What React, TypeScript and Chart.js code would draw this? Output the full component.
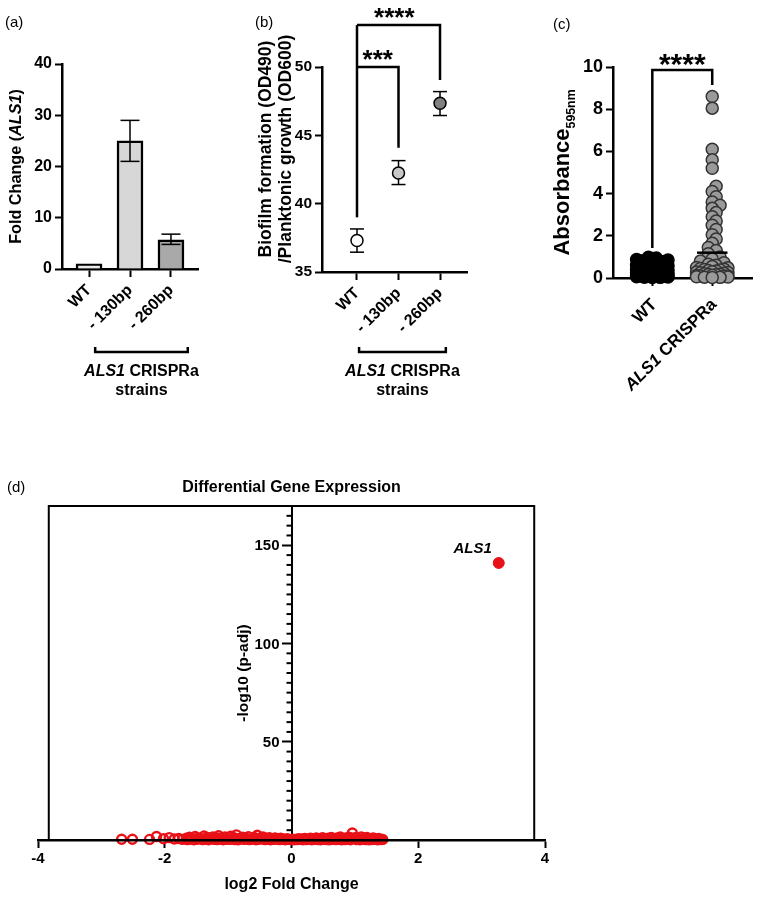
import React, { useEffect, useRef } from 'react';
import { Chart, registerables } from 'chart.js';

Chart.register(...registerables);

const FONT = "'Liberation Sans', Arial, Helvetica, sans-serif";
Chart.defaults.font.family = FONT;
Chart.defaults.color = '#000';

// ---------- (a) qPCR fold change ----------
const A_CATEGORIES = ['WT', '- 130bp', '- 260bp'];
const A_FOLD_CHANGE = [1.0, 25.0, 5.7];
const A_ERR_LOW = [1.0, 21.0, 4.8];
const A_ERR_HIGH = [1.0, 29.0, 6.8];
const A_COLORS = ['#ececec', '#d7d7d7', '#a9a9a9'];
const A_GROUP_SPAN = [1.15, 3.41];

// ---------- (b) biofilm / planktonic ----------
const B_CATEGORIES = ['WT', '- 130bp', '- 260bp'];
const B_BIOFILM = [37.3, 42.25, 47.35];
const B_ERR_LOW = [36.45, 41.4, 46.45];
const B_ERR_HIGH = [38.15, 43.15, 48.2];
const B_COLORS = ['#ffffff', '#c8c8c8', '#808080'];
const B_SIG_LABELS = ['***', '****'];
const B_SIG_TO = [2, 3];
const B_SIG_TOP = [50.0, 53.07];
const B_SIG_RIGHT_END = [44.1, 49.05];
const B_SIG_LEFT_END = 39.0;
const B_SIG_LABEL_X = [1.5, 1.9];
const B_GROUP_SPAN = [1.05, 3.14];

// ---------- (c) absorbance ----------
const C_GROUPS = ['WT', 'ALS1 CRISPRa'];
const C_WT = [0.98, 0.95, 0.92, 0.88, 0.85, 0.82, 0.78, 0.75, 0.72, 0.7, 0.66, 0.64, 0.6, 0.58, 0.55, 0.52,
  0.5, 0.48, 0.46, 0.44, 0.42, 0.4, 0.38, 0.36, 0.35, 0.33, 0.31, 0.3, 0.28, 0.26, 0.25, 0.23,
  0.22, 0.2, 0.19, 0.18, 0.16, 0.15, 0.13, 0.12, 0.1, 0.09, 0.08, 0.06, 0.05, 0.04, 0.03, 0.02];
const C_CRISPRA = [8.6, 8.05, 6.1, 5.6, 5.2, 4.35, 4.1, 3.85, 3.6, 3.45, 3.3, 3.1, 2.9, 2.7, 2.5, 2.3,
  2.05, 1.85, 1.65, 1.45, 1.3, 1.15, 1.0, 0.9,
  0.8, 0.72, 0.65, 0.6, 0.55, 0.5, 0.48, 0.45, 0.42, 0.4, 0.38, 0.35, 0.33, 0.3, 0.28, 0.26,
  0.25, 0.22, 0.2, 0.18, 0.16, 0.15, 0.13, 0.12, 0.1, 0.09, 0.08, 0.06, 0.05, 0.04, 0.03, 0.02];
const C_MEANS = [0.35, 1.2];
const C_SIG_TOP = 9.86;
const C_SIG_LEFT_END = 1.42;
const C_SIG_RIGHT_END = 9.15;

// ---------- (d) volcano ----------
const D_LOG2FC = [
  -2.68, -2.51, -2.24, -2.13, -2.02, -1.93, -1.85, -1.78, -1.72,
  -1.66, -1.61, -1.57, -1.52, -1.47, -1.43, -1.38, -1.33, -1.29, -1.24,
  -1.19, -1.15, -1.10, -1.05, -1.01, -0.96, -0.91, -0.87, -0.82, -0.77,
  -0.73, -0.68, -0.63, -0.59, -0.54, -0.49, -0.45, -0.40, -0.35, -0.31,
  -0.26, -0.21, -0.17, -0.12, -0.07, -0.03,
  0.02, 0.07, 0.11, 0.16, 0.21, 0.25, 0.30, 0.35, 0.39, 0.44,
  0.49, 0.53, 0.58, 0.63, 0.67, 0.72, 0.77, 0.81, 0.86, 0.91,
  0.96, 1.00, 1.05, 1.10, 1.14, 1.19, 1.24, 1.29, 1.33, 1.38, 1.44,
  -1.64, -1.59, -1.54, -1.50, -1.45, -1.40, -1.36, -1.31, -1.26, -1.21,
  -1.17, -1.12, -1.08, -1.03, -0.98, -0.94, -0.89, -0.84, -0.80, -0.75,
  -0.70, -0.66, -0.61, -0.56, -0.52, -0.47, -0.42, -0.38, -0.33, -0.28,
  -0.24, -0.19, -0.14, -0.10, -0.05, 0.00,
  0.04, 0.09, 0.14, 0.18, 0.23, 0.28, 0.32, 0.37, 0.42, 0.46,
  0.51, 0.56, 0.60, 0.65, 0.70, 0.74, 0.79, 0.84, 0.88, 0.93,
  1.03, 1.08, 1.12, 1.17, 1.22, 1.26, 1.31, 1.36, 1.41];
const D_NEG_LOG10_PADJ = [
  0.4, 0.4, 0.3, 1.8, 0.6, 1.2, 0.5, 0.8, 0.3,
  0.9, 1.4, 0.6, 1.8, 1.1, 0.7, 2.0, 1.3, 0.8, 1.6,
  1.0, 2.2, 0.9, 1.5, 0.6, 1.9, 1.2, 2.6, 0.8, 1.4,
  1.1, 1.7, 0.7, 1.3, 2.4, 1.0, 1.6, 0.8, 1.2, 0.6,
  1.0, 0.5, 0.9, 0.4, 0.7, 0.3,
  0.4, 0.3, 0.6, 0.5, 0.8, 0.4, 0.9, 0.6, 1.0, 0.7,
  1.2, 0.5, 0.9, 1.3, 0.6, 1.1, 1.5, 0.8, 1.0, 1.4,
  3.6, 1.2, 0.7, 1.6, 0.9, 1.3, 0.6, 1.1, 0.5, 0.8, 0.3,
  0.2, 0.5, 0.1, 0.3, 0.6, 0.2, 0.4, 0.1, 0.5, 0.3,
  0.2, 0.6, 0.1, 0.4, 0.3, 0.5, 0.2, 0.1, 0.6, 0.3,
  0.4, 0.2, 0.5, 0.1, 0.3, 0.6, 0.2, 0.4, 0.1, 0.3,
  0.5, 0.2, 0.4, 0.1, 0.3, 0.2,
  0.1, 0.2, 0.3, 0.1, 0.2, 0.4, 0.1, 0.3, 0.2, 0.1,
  0.3, 0.2, 0.1, 0.4, 0.2, 0.3, 0.1, 0.2, 0.3, 0.1,
  0.2, 0.1, 0.3, 0.2, 0.1, 0.2, 0.3, 0.1, 0.2];
const D_HIT_NAME = 'ALS1';
const D_HIT_LOG2FC = 3.27;
const D_HIT_NEG_LOG10_PADJ = 141;
const D_FRAME_X = [-3.83, 3.83];
const RED = 'rgb(232,17,23)';

// ---------- drawing helpers ----------
type Seg = { t: string; italic?: boolean; sub?: boolean };

function drawRich(ctx: CanvasRenderingContext2D, segs: Seg[], x: number, y: number, size: number,
  rot: number, align: 'left' | 'center' | 'right') {
  ctx.save();
  ctx.translate(x, y);
  ctx.rotate(rot);
  const fontFor = (s: Seg) => `${s.italic ? 'italic ' : ''}bold ${s.sub ? size * 0.56 : size}px ${FONT}`;
  let total = 0;
  const widths = segs.map((s) => { ctx.font = fontFor(s); const w = ctx.measureText(s.t).width; total += w; return w; });
  let cx = align === 'center' ? -total / 2 : align === 'right' ? -total : 0;
  ctx.textAlign = 'left';
  ctx.textBaseline = 'alphabetic';
  ctx.fillStyle = '#000';
  segs.forEach((s, i) => {
    ctx.font = fontFor(s);
    ctx.fillText(s.t, cx, size * 0.36 + (s.sub ? size * 0.28 : 0));
    cx += widths[i];
  });
  ctx.restore();
}

function drawStars(ctx: CanvasRenderingContext2D, text: string, x: number, y: number, size: number) {
  ctx.save();
  ctx.font = `bold ${size}px ${FONT}`;
  ctx.textAlign = 'center';
  ctx.textBaseline = 'alphabetic';
  ctx.fillStyle = '#000';
  ctx.fillText(text, x, y + size * 0.52);
  ctx.restore();
}

function poly(ctx: CanvasRenderingContext2D, pts: number[][], width = 2.5, color = '#000') {
  ctx.save();
  ctx.strokeStyle = color;
  ctx.lineWidth = width;
  ctx.lineCap = 'butt';
  ctx.lineJoin = 'miter';
  ctx.beginPath();
  pts.forEach(([px, py], i) => (i ? ctx.lineTo(px, py) : ctx.moveTo(px, py)));
  ctx.stroke();
  ctx.restore();
}

function errorBars(chart: any, low: number[], high: number[], halfCap: number) {
  const { ctx, scales: { x, y } } = chart;
  low.forEach((lo, i) => {
    if (lo === high[i]) return;
    const px = x.getPixelForValue(i + 1);
    const y1 = y.getPixelForValue(lo);
    const y2 = y.getPixelForValue(high[i]);
    poly(ctx, [[px, y1], [px, y2]], 1.5);
    poly(ctx, [[px - halfCap, y1], [px + halfCap, y1]], 1.5);
    poly(ctx, [[px - halfCap, y2], [px + halfCap, y2]], 1.5);
  });
}

function groupBracket(chart: any, span: number[], yOff: number) {
  const { ctx, scales: { x }, chartArea } = chart;
  const p0 = x.getPixelForValue(span[0]);
  const p1 = x.getPixelForValue(span[1]);
  const py = chartArea.bottom + yOff;
  poly(ctx, [[p0, py - 5], [p0, py], [p1, py], [p1, py - 5]], 2.5);
  const cx = (p0 + p1) / 2;
  drawRich(ctx, [{ t: 'ALS1', italic: true }, { t: ' CRISPRa' }], cx, py + 18, 16, 0, 'center');
  drawRich(ctx, [{ t: 'strains' }], cx, py + 37, 16, 0, 'center');
}

function labelSegs(label: string): Seg[] {
  if (label.startsWith('ALS1')) return [{ t: 'ALS1', italic: true }, { t: label.slice(4) }];
  return [{ t: label }];
}

function swarmOffsets(values: number[], pxPerY: number, pxPerX: number, diam: number): number[] {
  const STEP = 4, MAX = 19;
  const cands: number[] = [0];
  for (let k = 1; k * STEP <= MAX; k++) cands.push(k * STEP, -k * STEP);
  const order = values.map((_, i) => i).sort((a, b) => values[a] - values[b]);
  const placed: number[][] = [];
  const out: number[] = values.map(() => 0);
  order.forEach((idx, n) => {
    const py = values[idx] * pxPerY;
    let chosen = cands[n % cands.length];
    for (const c of cands) {
      if (placed.every(([qx, qy]) => Math.hypot(qx - c, qy - py) >= diam)) { chosen = c; break; }
    }
    placed.push([chosen, py]);
    out[idx] = chosen / pxPerX;
  });
  return out;
}

const axisBorder = { color: '#000', width: 2.5 };
const baseOptions = {
  responsive: false,
  animation: false,
  events: [] as string[],
  plugins: { legend: { display: false }, tooltip: { enabled: false }, title: { display: false } },
};

// ---------- (a) ----------
function configA(): any {
  const extras = {
    id: 'aExtras',
    afterDatasetsDraw(chart: any) { errorBars(chart, A_ERR_LOW, A_ERR_HIGH, 9.5); },
    afterDraw(chart: any) {
      const { ctx, chartArea } = chart;
      drawRich(ctx, [{ t: 'Fold Change (' }, { t: 'ALS1', italic: true }, { t: ')' }],
        chartArea.left - 47, (chartArea.top + chartArea.bottom) / 2, 16.2, -Math.PI / 2, 'center');
      groupBracket(chart, A_GROUP_SPAN, 83);
    },
  };
  return {
    type: 'bar',
    data: {
      datasets: [{
        data: A_CATEGORIES.map((_, i) => ({ x: i + 1, y: A_FOLD_CHANGE[i] })),
        backgroundColor: A_COLORS, borderColor: '#000', borderWidth: 2.5, barThickness: 26,
      }],
    },
    options: {
      ...baseOptions,
      layout: { padding: { left: 0, top: 64, right: 42, bottom: 71 } },
      scales: {
        x: {
          type: 'linear', min: 0.34, max: 3.66, offset: false,
          afterBuildTicks: (s: any) => { s.ticks = A_CATEGORIES.map((_, i) => ({ value: i + 1 })); },
          afterFit: (s: any) => { s.height = 60; },
          grid: { offset: false, drawOnChartArea: false, color: '#000', tickLength: 8, tickWidth: 2 },
          border: axisBorder,
          ticks: {
            callback: (v: number) => A_CATEGORIES[Math.round(v) - 1] ?? '',
            minRotation: 45, maxRotation: 45, autoSkip: false, padding: 4,
            font: { size: 16, weight: 'bold' }, color: '#000',
          },
        },
        y: {
          min: 0, max: 40,
          afterFit: (s: any) => { s.width = 62; },
          grid: { drawOnChartArea: false, color: '#000', tickLength: 7, tickWidth: 2 },
          border: axisBorder,
          ticks: { stepSize: 10, padding: 3, font: { size: 16, weight: 'bold' }, color: '#000' },
        },
      },
    },
    plugins: [extras],
  };
}

// ---------- (b) ----------
function configB(): any {
  const extras = {
    id: 'bExtras',
    beforeDatasetsDraw(chart: any) { errorBars(chart, B_ERR_LOW, B_ERR_HIGH, 7); },
    afterDraw(chart: any) {
      const { ctx, chartArea, scales: { x, y } } = chart;
      const cy = chartArea.top + 82;
      drawRich(ctx, [{ t: 'Biofilm formation (OD490)' }], chartArea.left - 57, cy, 17.5, -Math.PI / 2, 'center');
      drawRich(ctx, [{ t: '/Planktonic growth (OD600)' }], chartArea.left - 37, cy, 17.5, -Math.PI / 2, 'center');
      const lx = x.getPixelForValue(1);
      poly(ctx, [[lx, y.getPixelForValue(B_SIG_LEFT_END)], [lx, y.getPixelForValue(B_SIG_TOP[1])]], 2.5);
      B_SIG_LABELS.forEach((lab, i) => {
        const rx = x.getPixelForValue(B_SIG_TO[i]);
        const ty = y.getPixelForValue(B_SIG_TOP[i]);
        poly(ctx, [[lx, ty], [rx, ty], [rx, y.getPixelForValue(B_SIG_RIGHT_END[i])]], 2.5);
        drawStars(ctx, lab, x.getPixelForValue(B_SIG_LABEL_X[i]), ty - 13, 26);
      });
      groupBracket(chart, B_GROUP_SPAN, 80);
    },
  };
  return {
    type: 'scatter',
    data: {
      datasets: [{
        data: B_CATEGORIES.map((_, i) => ({ x: i + 1, y: B_BIOFILM[i] })),
        pointRadius: 6, pointBackgroundColor: B_COLORS, pointBorderColor: '#000', pointBorderWidth: 1.5,
      }],
    },
    options: {
      ...baseOptions,
      layout: { padding: { left: 0, top: 67, right: 23, bottom: 68 } },
      scales: {
        x: {
          type: 'linear', min: 0.157, max: 3.65,
          afterBuildTicks: (s: any) => { s.ticks = B_CATEGORIES.map((_, i) => ({ value: i + 1 })); },
          afterFit: (s: any) => { s.height = 60; },
          grid: { drawOnChartArea: false, color: '#000', tickLength: 8, tickWidth: 2 },
          border: axisBorder,
          ticks: {
            callback: (v: number) => B_CATEGORIES[Math.round(v) - 1] ?? '',
            minRotation: 45, maxRotation: 45, autoSkip: false, padding: 4,
            font: { size: 16, weight: 'bold' }, color: '#000',
          },
        },
        y: {
          min: 35, max: 50,
          afterFit: (s: any) => { s.width = 82; },
          grid: { drawOnChartArea: false, color: '#000', tickLength: 7, tickWidth: 2 },
          border: axisBorder,
          ticks: { stepSize: 5, padding: 3, font: { size: 15.5, weight: 'bold' }, color: '#000' },
        },
      },
    },
    plugins: [extras],
  };
}

// ---------- (c) ----------
const C_PAD = { left: 0, top: 67, right: 5, bottom: 62 };
const C_Y_MAX = 10;
const C_X_MIN = 0.344;
const C_X_MAX = 2.672;
function configC(): any {
  const plotH = 400 - C_PAD.top - C_PAD.bottom - 60;
  const plotW = 270 - 123 - C_PAD.right;
  const pxPerY = plotH / C_Y_MAX;
  const pxPerX = plotW / (C_X_MAX - C_X_MIN);
  const wtOff = swarmOffsets(C_WT, pxPerY, pxPerX, 8);
  const crOff = swarmOffsets(C_CRISPRA, pxPerY, pxPerX, 5.5);
  const extras = {
    id: 'cExtras',
    afterDraw(chart: any) {
      const { ctx, chartArea, scales: { x, y } } = chart;
      drawRich(ctx, [{ t: 'Absorbance' }, { t: '595nm', sub: true }], chartArea.left - 52,
        (chartArea.top + chartArea.bottom) / 2, 22, -Math.PI / 2, 'center');
      C_GROUPS.forEach((g, i) => {
        drawRich(ctx, labelSegs(g), x.getPixelForValue(i + 1) + 1, chartArea.bottom + 23, 17, -Math.PI / 4, 'right');
      });
      C_MEANS.forEach((m, i) => {
        const px = x.getPixelForValue(i + 1);
        const half = 0.25 * pxPerX;
        poly(ctx, [[px - half, y.getPixelForValue(m)], [px + half, y.getPixelForValue(m)]], 2.5);
      });
      const lx = x.getPixelForValue(1);
      const rx = x.getPixelForValue(2);
      const ty = y.getPixelForValue(C_SIG_TOP);
      poly(ctx, [[lx, y.getPixelForValue(C_SIG_LEFT_END)], [lx, ty], [rx, ty], [rx, y.getPixelForValue(C_SIG_RIGHT_END)]], 2.5);
      drawStars(ctx, '****', (lx + rx) / 2, ty - 12, 30);
    },
  };
  return {
    type: 'scatter',
    data: {
      datasets: [
        {
          data: C_WT.map((v, i) => ({ x: 1 + wtOff[i], y: v })),
          pointRadius: 6, pointBackgroundColor: '#000', pointBorderColor: '#000', pointBorderWidth: 1.5, clip: false,
        },
        {
          data: C_CRISPRA.map((v, i) => ({ x: 2 + crOff[i], y: v })),
          pointRadius: 6, pointBackgroundColor: '#9a9a9a', pointBorderColor: '#333', pointBorderWidth: 1.5, clip: false,
        },
      ],
    },
    options: {
      ...baseOptions,
      layout: { padding: C_PAD },
      scales: {
        x: {
          type: 'linear', min: C_X_MIN, max: C_X_MAX,
          afterBuildTicks: (s: any) => { s.ticks = C_GROUPS.map((_, i) => ({ value: i + 1 })); },
          afterFit: (s: any) => { s.height = 60; },
          grid: { drawOnChartArea: false, color: '#000', tickLength: 8, tickWidth: 2 },
          border: axisBorder,
          ticks: { display: false },
        },
        y: {
          min: 0, max: C_Y_MAX,
          afterFit: (s: any) => { s.width = 123; },
          grid: { drawOnChartArea: false, color: '#000', tickLength: 7, tickWidth: 2 },
          border: axisBorder,
          ticks: { stepSize: 2, padding: 3, font: { size: 18, weight: 'bold' }, color: '#000' },
        },
      },
    },
    plugins: [extras],
  };
}

// ---------- (d) ----------
function configD(): any {
  const extras = {
    id: 'dExtras',
    beforeDatasetsDraw(chart: any) {
      const { ctx, chartArea, scales: { x, y } } = chart;
      const l = x.getPixelForValue(D_FRAME_X[0]);
      const r = x.getPixelForValue(D_FRAME_X[1]);
      poly(ctx, [[l, chartArea.bottom], [l, chartArea.top], [r, chartArea.top], [r, chartArea.bottom]], 2);
      const ax = x.getPixelForValue(0);
      y.ticks.forEach((t: any) => {
        const py = y.getPixelForValue(t.value);
        if (t.value % 50 === 0) {
          if (t.value > 0) {
            ctx.save();
            ctx.font = `bold 15px ${FONT}`;
            ctx.textAlign = 'right';
            ctx.textBaseline = 'middle';
            ctx.fillStyle = '#000';
            ctx.fillText(String(t.value), ax - 12, py + 1);
            ctx.restore();
          }
          return;
        }
        poly(ctx, [[ax - 5, py], [ax, py]], 2);
      });
    },
    afterDraw(chart: any) {
      const { ctx, chartArea, scales: { x, y } } = chart;
      const cx = (chartArea.left + chartArea.right) / 2;
      drawRich(ctx, [{ t: 'Differential Gene Expression' }], cx, chartArea.top - 20, 16, 0, 'center');
      drawRich(ctx, [{ t: 'log2 Fold Change' }], cx, chartArea.bottom + 43, 16, 0, 'center');
      drawRich(ctx, [{ t: '-log10 (p-adj)' }], x.getPixelForValue(0) - 49,
        (chartArea.top + chartArea.bottom) / 2, 15.5, -Math.PI / 2, 'center');
      const hx = x.getPixelForValue(D_HIT_LOG2FC);
      const hy = y.getPixelForValue(D_HIT_NEG_LOG10_PADJ);
      drawRich(ctx, [{ t: D_HIT_NAME, italic: true }], hx - 7, hy - 15, 15, 0, 'right');
    },
  };
  return {
    type: 'scatter',
    data: {
      datasets: [
        {
          data: D_LOG2FC.map((v, i) => ({ x: v, y: D_NEG_LOG10_PADJ[i] })),
          pointRadius: 4.5, pointBackgroundColor: 'rgba(255,255,255,0)', pointBorderColor: RED, pointBorderWidth: 2.4, clip: false,
        },
        {
          data: [{ x: D_HIT_LOG2FC, y: D_HIT_NEG_LOG10_PADJ }],
          pointRadius: 5.5, pointBackgroundColor: RED, pointBorderColor: RED, pointBorderWidth: 1, clip: false,
        },
      ],
    },
    options: {
      ...baseOptions,
      layout: { padding: { left: 38, top: 46, right: 15, bottom: 27 } },
      scales: {
        x: {
          type: 'linear', min: -4, max: 4,
          afterFit: (s: any) => { s.height = 30; },
          grid: { drawOnChartArea: false, color: '#000', tickLength: 8, tickWidth: 2 },
          border: { color: '#000', width: 2.5, z: 1 },
          ticks: { stepSize: 2, padding: 2, font: { size: 15, weight: 'bold' }, color: '#000' },
        },
        y: {
          type: 'linear', min: 0, max: 170, position: { x: 0 },
          grid: {
            drawOnChartArea: false, tickLength: 9, tickWidth: 2,
            tickColor: (c: any) => (c.tick && c.tick.value % 50 === 0 && c.tick.value > 0 ? '#000' : 'rgba(0,0,0,0)'),
          },
          border: { color: '#000', width: 2 },
          ticks: { stepSize: 5, autoSkip: false, display: false },
        },
      },
    },
    plugins: [extras],
  };
}

function Panel({ make, left, top, width, height }: { make: () => any; left: number; top: number; width: number; height: number }) {
  const ref = useRef<HTMLCanvasElement>(null);
  useEffect(() => {
    const chart = new Chart(ref.current as HTMLCanvasElement, make());
    return () => chart.destroy();
  }, []);
  return (
    <canvas ref={ref} width={width} height={height}
      style={{ position: 'absolute', left, top, width, height }} />
  );
}

const panelLabel = (text: string, left: number, top: number) => (
  <div style={{ position: 'absolute', left, top, font: `15px ${FONT}`, lineHeight: '18px', color: '#000' }}>{text}</div>
);

export default function App() {
  return (
    <div style={{ position: 'absolute', left: 0, top: 0, width: 760, height: 897, background: '#fff', overflow: 'hidden' }}>
      <Panel make={configA} left={0} top={0} width={240} height={400} />
      <Panel make={configB} left={240} top={0} width={250} height={400} />
      <Panel make={configC} left={490} top={0} width={270} height={400} />
      <Panel make={configD} left={0} top={460} width={560} height={437} />
      {panelLabel('(a)', 5, 13)}
      {panelLabel('(b)', 255, 13)}
      {panelLabel('(c)', 553, 15)}
      {panelLabel('(d)', 7, 478)}
    </div>
  );
}
